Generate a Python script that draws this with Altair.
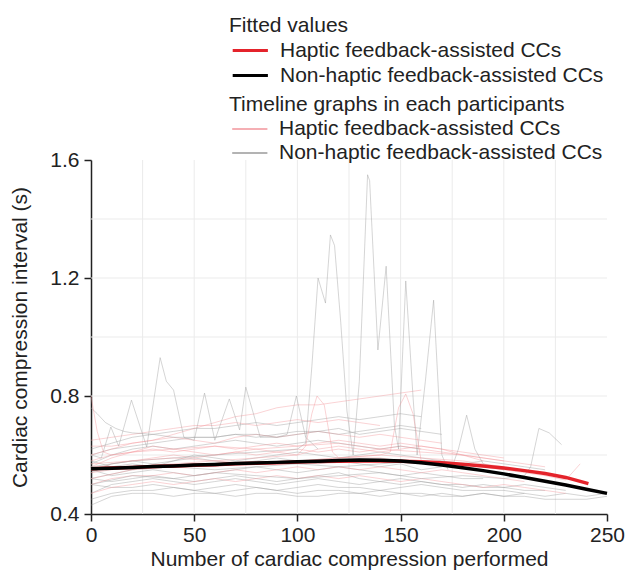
import altair as alt
import pandas as pd

HAPTIC = "Haptic feedback-assisted CCs"
NONHAPTIC = "Non-haptic feedback-assisted CCs"

x_ticks = [0, 50, 100, 150, 200, 250]
y_ticks = [0.4, 0.8, 1.2, 1.6]
grid_x = [25, 50, 75, 100, 125, 150, 175, 200, 225]
grid_y = [0.6, 0.8, 1.0, 1.2, 1.4]

# fitted curves
fit_haptic_x = [0, 10, 20, 30, 40, 50, 60, 70, 80, 90, 100, 110, 120, 130, 140,
                150, 160, 170, 180, 190, 200, 210, 220, 230, 241]
fit_haptic_y = [0.553, 0.556, 0.558, 0.561, 0.563, 0.565, 0.567, 0.570, 0.572, 0.574,
                0.576, 0.578, 0.579, 0.580, 0.580, 0.579, 0.577, 0.574, 0.569, 0.563,
                0.556, 0.547, 0.537, 0.524, 0.503]
fit_non_x = [0, 10, 20, 30, 40, 50, 60, 70, 80, 90, 100, 110, 120, 130, 140, 150,
             160, 170, 180, 190, 200, 210, 220, 230, 240, 250]
fit_non_y = [0.553, 0.555, 0.558, 0.561, 0.563, 0.566, 0.568, 0.571, 0.573, 0.575,
             0.577, 0.579, 0.581, 0.583, 0.582, 0.580, 0.574, 0.566, 0.557, 0.547,
             0.536, 0.524, 0.511, 0.498, 0.484, 0.470]

# participant timelines sampled every 10 compressions (start at 0)
grey_1 = [0.43, 0.46, 0.47, 0.47, 0.46, 0.47, 0.47, 0.46, 0.47, 0.47, 0.46, 0.46, 0.47,
          0.47, 0.46, 0.47, 0.47, 0.46, 0.46, 0.47, 0.46, 0.46, 0.45, 0.45, 0.45, 0.46]
grey_2 = [0.50, 0.49, 0.49, 0.50, 0.49, 0.48, 0.49, 0.50, 0.49, 0.48, 0.49, 0.50, 0.49,
          0.49, 0.48, 0.49, 0.50, 0.49, 0.48, 0.48, 0.48, 0.47]
grey_3 = [0.52, 0.51, 0.52, 0.53, 0.52, 0.51, 0.52, 0.53, 0.52, 0.51, 0.52, 0.53, 0.54,
          0.52, 0.51, 0.52, 0.51, 0.50, 0.50, 0.49, 0.49, 0.48, 0.48]
grey_4 = [0.55, 0.53, 0.54, 0.55, 0.54, 0.53, 0.54, 0.55, 0.56, 0.55, 0.54, 0.55, 0.56,
          0.55, 0.54, 0.53, 0.54, 0.53, 0.52, 0.52]
grey_5 = [0.58, 0.56, 0.57, 0.56, 0.58, 0.59, 0.58, 0.57, 0.58, 0.59, 0.58, 0.57, 0.58,
          0.57, 0.56, 0.57, 0.55, 0.56]
grey_6 = [0.62, 0.64, 0.66, 0.67, 0.68, 0.69, 0.69, 0.70, 0.71, 0.70, 0.71, 0.72, 0.73,
          0.72, 0.73, 0.74, 0.73]
grey_7 = [0.60, 0.62, 0.63, 0.64, 0.65, 0.66, 0.66, 0.67, 0.66, 0.67, 0.68, 0.68, 0.69,
          0.67, 0.68, 0.69, 0.68, 0.67]
grey_8 = [0.47, 0.50, 0.51, 0.52, 0.51, 0.50, 0.51, 0.52, 0.51, 0.50, 0.51, 0.52, 0.51,
          0.50, 0.51, 0.50, 0.51, 0.50, 0.49, 0.50, 0.49, 0.50, 0.49, 0.48]
grey_9 = [0.54, 0.57, 0.58, 0.57, 0.58, 0.60, 0.59, 0.58, 0.59, 0.60, 0.61, 0.60, 0.59,
          0.60, 0.61, 0.60, 0.59, 0.58, 0.57, 0.58, 0.57, 0.56, 0.55]
grey_10 = [0.45, 0.47, 0.48, 0.48, 0.49, 0.48, 0.47, 0.48, 0.49, 0.48, 0.47, 0.48, 0.48,
           0.47, 0.48, 0.47, 0.46, 0.47, 0.46, 0.47, 0.46, 0.47, 0.46, 0.47, 0.46, 0.47]
grey_11 = [0.57, 0.60, 0.62, 0.63, 0.62, 0.63, 0.64, 0.65, 0.64, 0.63, 0.64, 0.65, 0.64,
           0.63, 0.62, 0.63, 0.62]

pink_1 = [0.63, 0.63, 0.64, 0.65, 0.67, 0.69, 0.71, 0.73, 0.74, 0.76, 0.77, 0.77, 0.78,
          0.79, 0.80, 0.81, 0.82]
pink_2 = [0.58, 0.60, 0.61, 0.62, 0.61, 0.62, 0.63, 0.62, 0.63, 0.64, 0.63, 0.64, 0.65,
          0.64, 0.63, 0.64, 0.63, 0.62, 0.61, 0.60, 0.59]
pink_3 = [0.55, 0.57, 0.58, 0.59, 0.60, 0.59, 0.60, 0.61, 0.60, 0.61, 0.62, 0.61, 0.62,
          0.61, 0.62, 0.63, 0.62, 0.61, 0.60, 0.59, 0.58, 0.57, 0.56]
pink_4 = [0.50, 0.52, 0.53, 0.53, 0.54, 0.53, 0.54, 0.55, 0.54, 0.55, 0.56, 0.55, 0.56,
          0.55, 0.56, 0.55, 0.54, 0.55, 0.54, 0.53, 0.52, 0.51]
pink_5 = [0.47, 0.49, 0.50, 0.51, 0.50, 0.51, 0.52, 0.51, 0.52, 0.53, 0.52, 0.53, 0.52,
          0.53, 0.52, 0.51, 0.52, 0.51, 0.50, 0.49, 0.50, 0.49, 0.48, 0.47]
pink_6 = [0.65, 0.66, 0.67, 0.68, 0.69, 0.70, 0.70, 0.71, 0.70, 0.71, 0.72, 0.71, 0.72,
          0.71, 0.70]
pink_7 = [0.60, 0.62, 0.64, 0.65, 0.66, 0.65, 0.64, 0.66, 0.67, 0.66, 0.67, 0.68, 0.67,
          0.66, 0.67, 0.66, 0.65, 0.64]
pink_8 = [0.56, 0.59, 0.61, 0.63, 0.62, 0.61, 0.60, 0.61, 0.62, 0.61, 0.60, 0.62, 0.63,
          0.62, 0.61, 0.62, 0.63, 0.62, 0.60, 0.58]

# participant timelines with irregular sampling
grey_s1_x = [0, 5, 9.6, 13.4, 19.6, 27, 33.5, 36.5, 40, 45, 50, 55, 60, 67, 72, 75, 82,
             90, 95, 99.5, 104, 110]
grey_s1_y = [0.60, 0.59, 0.695, 0.63, 0.786, 0.627, 0.93, 0.85, 0.82, 0.66, 0.65, 0.81,
             0.65, 0.79, 0.685, 0.83, 0.66, 0.66, 0.67, 0.80, 0.66, 0.62]
grey_s2_x = [0, 20, 40, 60, 80, 100, 104, 107, 110, 113.6, 116, 118, 121, 124, 127, 130,
             134, 135, 139, 143, 147, 149, 152.5, 156, 158, 162, 166, 170, 173]
grey_s2_y = [0.56, 0.58, 0.59, 0.60, 0.61, 0.62, 0.64, 0.90, 1.20, 1.115, 1.346, 1.31,
             1.05, 0.75, 0.60, 0.85, 1.55, 1.53, 0.956, 1.24, 0.70, 0.62, 1.19, 0.80,
             0.60, 0.85, 1.125, 0.60, 0.55]
grey_hump_x = [0, 20, 40, 60, 80, 100, 120, 140, 160, 180, 200, 210, 213, 217, 222, 228]
grey_hump_y = [0.50, 0.53, 0.52, 0.54, 0.53, 0.52, 0.53, 0.54, 0.52, 0.53, 0.52, 0.53,
               0.56, 0.69, 0.675, 0.635]
grey_decay_x = [0, 3, 7, 12, 16, 20, 30, 40, 50, 60, 70, 80, 90, 100, 110, 120, 130,
                140, 150, 160]
grey_decay_y = [0.76, 0.74, 0.71, 0.69, 0.68, 0.675, 0.67, 0.66, 0.66, 0.66, 0.67, 0.67,
                0.66, 0.67, 0.68, 0.67, 0.68, 0.69, 0.70, 0.69]
grey_spike_x = [0, 20, 40, 60, 80, 100, 120, 140, 160, 170, 175, 178, 182, 186, 190, 200]
grey_spike_y = [0.52, 0.55, 0.56, 0.55, 0.56, 0.57, 0.56, 0.57, 0.58, 0.57, 0.56, 0.62,
                0.735, 0.62, 0.57, 0.55]

pink_drop_x = [0, 3, 6, 10, 20, 40, 60, 80, 100, 120, 140, 160, 180, 200]
pink_drop_y = [0.80, 0.68, 0.61, 0.60, 0.61, 0.62, 0.63, 0.62, 0.63, 0.64, 0.62, 0.61,
               0.60, 0.58]
pink_sp1_x = [0, 20, 40, 60, 80, 100, 104, 107, 109.5, 113, 117, 120, 140, 160, 180, 200]
pink_sp1_y = [0.57, 0.58, 0.59, 0.58, 0.59, 0.60, 0.63, 0.74, 0.80, 0.77, 0.61, 0.59,
              0.60, 0.59, 0.58, 0.56]
pink_sp2_x = [0, 20, 40, 60, 80, 100, 120, 140, 145, 149, 152.5, 156, 160, 180, 200]
pink_sp2_y = [0.54, 0.56, 0.57, 0.58, 0.57, 0.58, 0.59, 0.60, 0.61, 0.76, 0.807, 0.74,
              0.58, 0.57, 0.55]
pink_tail_x = [0, 20, 40, 60, 80, 100, 120, 140, 160, 180, 200, 220, 230, 237]
pink_tail_y = [0.52, 0.55, 0.56, 0.57, 0.57, 0.58, 0.59, 0.59, 0.57, 0.57, 0.55, 0.53,
               0.515, 0.57]

step_lines = [
    (NONHAPTIC, grey_1), (NONHAPTIC, grey_2), (NONHAPTIC, grey_3), (NONHAPTIC, grey_4),
    (NONHAPTIC, grey_5), (NONHAPTIC, grey_6), (NONHAPTIC, grey_7), (NONHAPTIC, grey_8),
    (NONHAPTIC, grey_9), (NONHAPTIC, grey_10), (NONHAPTIC, grey_11),
    (HAPTIC, pink_1), (HAPTIC, pink_2), (HAPTIC, pink_3), (HAPTIC, pink_4),
    (HAPTIC, pink_5), (HAPTIC, pink_6), (HAPTIC, pink_7), (HAPTIC, pink_8),
]
xy_lines = [
    (NONHAPTIC, grey_s1_x, grey_s1_y), (NONHAPTIC, grey_s2_x, grey_s2_y),
    (NONHAPTIC, grey_hump_x, grey_hump_y), (NONHAPTIC, grey_decay_x, grey_decay_y),
    (NONHAPTIC, grey_spike_x, grey_spike_y),
    (HAPTIC, pink_drop_x, pink_drop_y), (HAPTIC, pink_sp1_x, pink_sp1_y),
    (HAPTIC, pink_sp2_x, pink_sp2_y), (HAPTIC, pink_tail_x, pink_tail_y),
]

rows = []
pid = 0
for grp, ys in step_lines:
    pid += 1
    for i, v in enumerate(ys):
        rows.append({"pid": pid, "group": grp, "n": i * 10, "v": v})
for grp, xs, ys in xy_lines:
    pid += 1
    for xv, v in zip(xs, ys):
        rows.append({"pid": pid, "group": grp, "n": xv, "v": v})
part_df = pd.DataFrame(rows)

fit_rows = [{"group": HAPTIC, "n": a, "v": b} for a, b in zip(fit_haptic_x, fit_haptic_y)]
fit_rows += [{"group": NONHAPTIC, "n": a, "v": b} for a, b in zip(fit_non_x, fit_non_y)]
fit_df = pd.DataFrame(fit_rows)

FONT = "Liberation Sans"
FS = 21

xscale = alt.Scale(domain=[0, 250], nice=False, zero=False)
yscale = alt.Scale(domain=[0.4, 1.6], nice=False, zero=False)
xaxis = alt.Axis(values=x_ticks, grid=False, title="Number of cardiac compression performed",
                 domainColor="#222", tickColor="#222", domainWidth=1.5, tickWidth=1.5,
                 tickSize=7, labelPadding=3, titlePadding=3, labelFontSize=FS,
                 titleFontSize=FS, labelFont=FONT, titleFont=FONT, labelColor="#222",
                 titleColor="#222", titleFontWeight="normal", labelFlush=False)
yaxis = alt.Axis(values=y_ticks, grid=False, format=".1f",
                 title="Cardiac compression interval (s)",
                 domainColor="#222", tickColor="#222", domainWidth=1.5, tickWidth=1.5,
                 tickSize=7, labelPadding=5, titlePadding=19, labelFontSize=FS,
                 titleFontSize=FS, labelFont=FONT, titleFont=FONT, labelColor="#222",
                 titleColor="#222", titleFontWeight="normal", labelFlush=False)

gx = alt.Chart(pd.DataFrame({"n": grid_x})).mark_rule(color="#ebebeb", strokeWidth=1).encode(
    x=alt.X("n:Q", scale=xscale, axis=xaxis))
gy = alt.Chart(pd.DataFrame({"v": grid_y})).mark_rule(color="#ebebeb", strokeWidth=1).encode(
    y=alt.Y("v:Q", scale=yscale, axis=yaxis))

# long horizontal stroke symbol (unit path, scaled by sqrt(symbolSize)/2)
SYMBOL = "M-0.8,0L2.4,0"
legend_common = dict(orient="none", symbolType=SYMBOL, symbolSize=484,
                     labelFontSize=FS, titleFontSize=FS, labelFont=FONT, titleFont=FONT,
                     titleFontWeight="normal", labelColor="#222", titleColor="#222",
                     rowPadding=2, titlePadding=2, labelOffset=26, labelLimit=500,
                     titleLimit=500, symbolOpacity=1, padding=0,
                     symbolFillColor="transparent")

parts = alt.Chart(part_df).mark_line(strokeWidth=1, opacity=0.42).encode(
    x=alt.X("n:Q", scale=xscale, axis=xaxis),
    y=alt.Y("v:Q", scale=yscale, axis=yaxis),
    detail="pid:N",
    color=alt.Color("group:N",
                    scale=alt.Scale(domain=[HAPTIC, NONHAPTIC], range=["#f2959b", "#9a9a9a"]),
                    legend=alt.Legend(title="Timeline graphs in each participants",
                                      legendX=138, legendY=-66, symbolStrokeWidth=1.5,
                                      **legend_common)),
)

fit = alt.Chart(fit_df).mark_line(strokeWidth=3.5).encode(
    x=alt.X("n:Q", scale=xscale, axis=xaxis),
    y=alt.Y("v:Q", scale=yscale, axis=yaxis),
    color=alt.Color("group:N",
                    scale=alt.Scale(domain=[HAPTIC, NONHAPTIC], range=["#e4232b", "#000000"]),
                    legend=alt.Legend(title="Fitted values", legendX=138, legendY=-145,
                                      symbolStrokeWidth=3, **legend_common)),
)

chart = alt.layer(gx, gy, parts, fit).resolve_scale(color="independent").properties(
    width=516, height=354, autosize="none",
    padding={"left": 83, "top": 152, "right": 18, "bottom": 59},
).configure_view(stroke=None)

chart.save("out.html", embed_options={"renderer": "svg", "actions": False})
